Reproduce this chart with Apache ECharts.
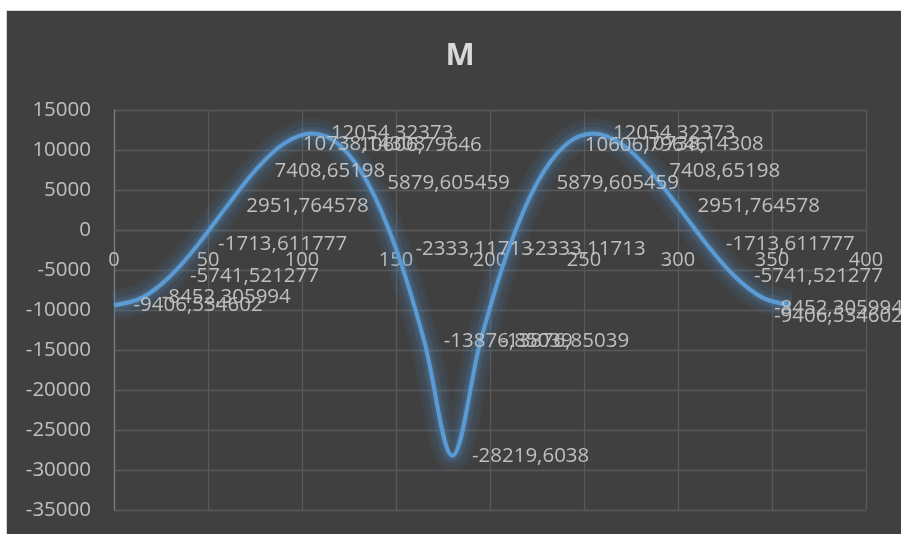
<!DOCTYPE html>
<html>
<head>
<meta charset="utf-8">
<script src="https://cdn.jsdelivr.net/npm/echarts@6/dist/echarts.min.js"></script>
<style>
  html, body { margin: 0; padding: 0; background: #ffffff; }
  #chart {
    position: absolute; left: 6px; top: 10px;
    width: 894px; height: 523px;
    border-left: 1px solid #d4d4d4; border-top: 1px solid #d4d4d4;
  }
</style>
</head>
<body>
<div id="chart"></div>
<script>
// Bending moment M along the beam (x in the beam's length units)
const xPositions = [0, 15, 30, 45, 60, 75, 90, 105, 120, 135, 150, 165, 180,
                    195, 210, 225, 240, 255, 270, 285, 300, 315, 330, 345, 360];
const momentValues = [
  -9406.534602, -8452.305994, -5741.521277, -1713.611777, 2951.764578,
  7408.65198, 10738.14308, 12054.32373, 10606.79646, 5879.605459,
  -2333.11713, -13876.85039, -28219.6038, -13876.85039, -2333.11713,
  5879.605459, 10606.79646, 12054.32373, 10738.14308, 7408.65198,
  2951.764578, -1713.611777, -5741.521277, -8452.305994, -9406.534602
];
const xTicks = { min: 0, max: 400, step: 50 };
const yTicks = { min: -35000, max: 15000, step: 5000 };
const chartTitle = 'M';

const textColor = '#bfbfbf';
const gridColor = '#595959';
const lineColor = '#5b9bd5';
const fontFamily = '"Open Sans", "Noto Sans", sans-serif';

const gridBox = { left: 107, right: 35, top: 99, bottom: 24 };

const el = document.getElementById('chart');
const chart = echarts.init(el, null, { renderer: 'canvas' });

const seriesData = xPositions.map((x, i) => [x, momentValues[i]]);

// decimal comma, as in the original number format
const fmt = v => String(v).replace('.', ',');

// the horizontal axis crosses the vertical one at y = 0
const plotHeight = el.clientHeight - gridBox.top - gridBox.bottom;
const zeroOffset = -plotHeight * (0 - yTicks.min) / (yTicks.max - yTicks.min);

const SMOOTH = 0.35;

// soft glow under the curve: a few wide, faint strokes of the same path
const glowLayers = [
  { width: 30, alpha: 0.07 },
  { width: 22, alpha: 0.09 },
  { width: 14, alpha: 0.12 },
  { width: 8, alpha: 0.16 }
].map(g => ({
  type: 'line',
  data: seriesData,
  smooth: SMOOTH,
  showSymbol: false,
  silent: true,
  z: 1,
  lineStyle: {
    color: `rgba(91,155,213,${g.alpha})`, width: g.width,
    shadowColor: `rgba(91,155,213,${g.alpha})`, shadowBlur: 8
  }
}));

chart.setOption({
  backgroundColor: '#404040',
  animation: false,
  graphic: [{
    type: 'text',
    x: 453, y: 45,
    style: {
      text: chartTitle,
      fill: '#d9d9d9',
      font: 'bold 31px ' + fontFamily,
      textAlign: 'center',
      textVerticalAlign: 'middle'
    }
  }],
  grid: gridBox,
  xAxis: {
    type: 'value',
    min: xTicks.min, max: xTicks.max, interval: xTicks.step,
    offset: zeroOffset,
    axisLine: { show: true, onZero: false, lineStyle: { color: gridColor, width: 1.3 } },
    axisTick: { show: false },
    axisLabel: { color: textColor, fontSize: 20, fontFamily, margin: 20, formatter: v => String(v) },
    splitLine: { show: true, lineStyle: { color: gridColor, width: 1.3 } }
  },
  yAxis: {
    type: 'value',
    min: yTicks.min, max: yTicks.max, interval: yTicks.step,
    axisLine: { show: true, onZero: false, lineStyle: { color: '#7a7a7a', width: 1.3 } },
    axisTick: { show: false },
    axisLabel: { color: textColor, fontSize: 20.5, fontFamily, margin: 23, formatter: v => String(v) },
    splitLine: { show: true, lineStyle: { color: gridColor, width: 1.3 } }
  },
  series: glowLayers.concat([{
    type: 'line',
    data: seriesData,
    smooth: SMOOTH,
    symbol: 'circle',
    symbolSize: 1,
    showSymbol: true,
    z: 3,
    itemStyle: { color: lineColor },
    lineStyle: { color: lineColor, width: 4 },
    label: {
      show: true,
      position: 'right',
      distance: 19,
      color: textColor,
      fontSize: 20.5,
      fontFamily,
      formatter: p => fmt(p.value[1])
    }
  }]),
  // keep labels inside the chart area, pushing them left at the right edge
  labelLayout: params => {
    const r = params.labelRect;
    const limit = chart.getWidth() + 2;
    if (r.x + r.width > limit) {
      return { x: limit - r.width };
    }
    return {};
  }
});
</script>
</body>
</html>
